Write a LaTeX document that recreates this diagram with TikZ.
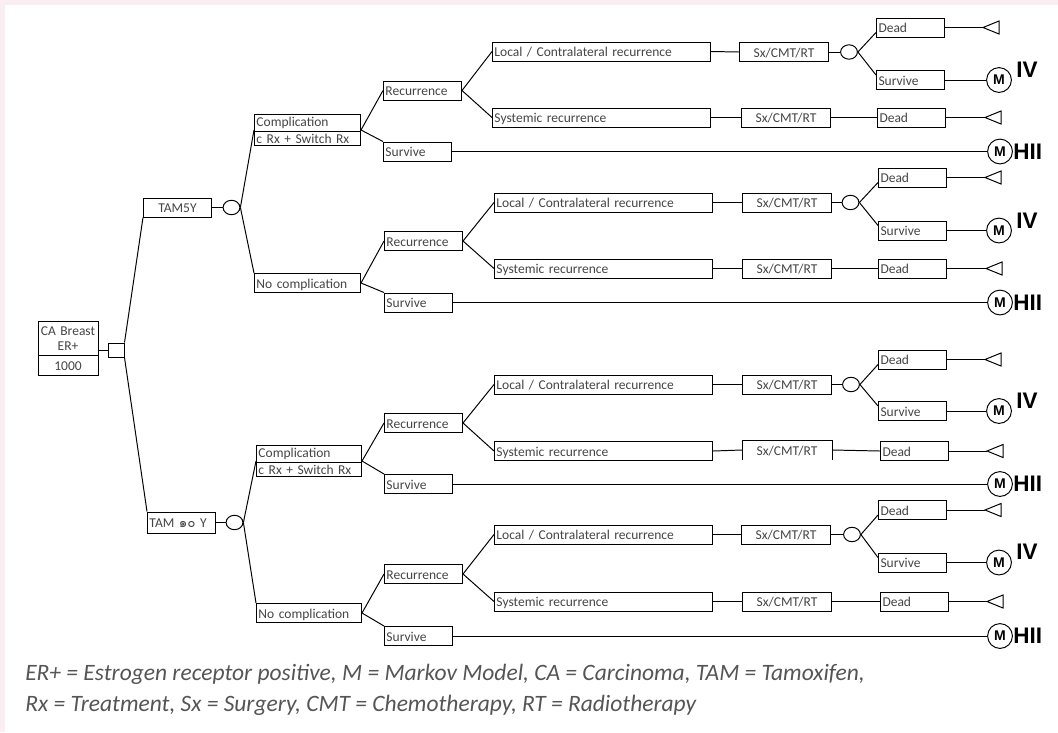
\documentclass[tikz,border=0pt]{standalone}
\usepackage{fontspec}
\setmainfont{Carlito}
\newfontfamily\thaifont[Script=Thai]{Loma}
\newfontfamily\stagefont{Liberation Sans}
\usetikzlibrary{shapes.geometric,shapes.multipart,calc}

\definecolor{bgpink}{HTML}{FBEEF3}
\definecolor{txtgray}{HTML}{454545}
\definecolor{capgray}{HTML}{555555}

\tikzset{
  box/.style={draw, rectangle, anchor=west, inner xsep=0.05cm, inner ysep=0pt,
    minimum height=0.475cm, text height=8.6pt, text depth=1pt, text=txtgray,
    align=left, line width=0.7pt, font=\fontsize{9.6}{10.7}\selectfont},
  widebox/.style={box, text width=5.35cm},
  recbox/.style={box, text width=1.85cm},
  shortbox/.style={box, text width=1.6cm},
  sxbox/.style={box, text width=2.125cm, align=center},
  splitbox/.style={draw, rectangle split, rectangle split parts=2, anchor=west,
    inner xsep=0.05cm, inner ysep=1.5pt, text width=2.55cm, text=txtgray,
    align=left, line width=0.7pt, font=\fontsize{9.6}{10.7}\selectfont},
  rootbox/.style={splitbox, anchor=center, text width=1.4cm, align=center, inner ysep=3.5pt},
  decision/.style={draw, rectangle, inner sep=0pt, minimum width=0.4cm,
    minimum height=0.35cm, line width=0.7pt},
  chance/.style={draw, ellipse, inner sep=0pt, minimum width=0.42cm,
    minimum height=0.36cm, line width=0.7pt},
  markov/.style={draw, circle, inner sep=0pt, minimum size=0.62cm, line width=0.7pt,
    font=\stagefont\bfseries\fontsize{10}{10}\selectfont},
  stage/.style={anchor=west, inner sep=0pt, font=\stagefont\bfseries\fontsize{16}{16}\selectfont},
  caption/.style={anchor=west, inner sep=0pt, text=capgray,
    font=\itshape\fontsize{16.7}{17}\selectfont},
  lnk/.style={line width=0.7pt},
}

\begin{document}
\begin{tikzpicture}[x=0.025cm, y=-0.025cm]
\fill[bgpink] (0,0) rectangle (1058,732);
\fill[white] (5,5) rectangle (1058,732);
\useasboundingbox (0,0) rectangle (1058,732);

% root and decision
\node[rootbox] (root) at (68,348.5) {CA Breast\\ER+ \nodepart{two} 1000};
\node[decision] (dec) at (116,350) {};
\node[shortbox, align=center] (tam5) at (143,207.5) {TAM5Y};
\node[shortbox, minimum height=0.525cm] (tam10) at (147,522.5) {TAM {\thaifont ๑๐} Y};
\node[chance] (c5) at (231.5,207.5) {};
\node[chance] (c10) at (234.5,522.5) {};

% TAM5Y, complication
\node[splitbox] (comp5) at (254,130) {Complication \nodepart{two} c Rx + Switch Rx};
\node[recbox] (rec1) at (383,90.5) {Recurrence};
\node[shortbox] (sur1) at (383,151.5) {Survive};
\node[widebox] (loc1) at (492,51.5) {Local / Contralateral recurrence};
\node[widebox] (sys1) at (492,117.5) {Systemic recurrence};
\node[sxbox] (sx1) at (739,52) {Sx/CMT/RT};
\node[chance] (ch1) at (849,52) {};
\node[shortbox] (dd1) at (876,27.5) {Dead};
\node[shortbox] (sv1) at (876,80) {Survive};
\node[sxbox] (sx2) at (741,117.5) {Sx/CMT/RT};
\node[shortbox] (dd2) at (877,117.5) {Dead};
\coordinate (t1) at (983,27.5);
\coordinate (t2) at (985,117.5);
\node[markov] (m1) at (999,80) {M};
\node[markov] (ms1) at (1000,151.5) {M};
\node[stage] (l1) at (1016,70) {IV};
\node[stage] (ls1) at (1013,151.5) {HII};

% TAM5Y, no complication
\node[box, text width=2.55cm] (nc5) at (254,283) {No complication};
\node[recbox] (rec2) at (384,241) {Recurrence};
\node[shortbox] (sur2) at (384,302.5) {Survive};
\node[widebox] (loc2) at (494,202.5) {Local / Contralateral recurrence};
\node[widebox] (sys2) at (494,268.5) {Systemic recurrence};
\node[sxbox] (sx3) at (742,202.5) {Sx/CMT/RT};
\node[chance] (ch2) at (850.5,202.5) {};
\node[shortbox] (dd3) at (878,177.5) {Dead};
\node[shortbox] (sv3) at (878,230.5) {Survive};
\node[sxbox] (sx4) at (742,268.5) {Sx/CMT/RT};
\node[shortbox] (dd4) at (878,268.5) {Dead};
\coordinate (t3) at (985,177.5);
\coordinate (t4) at (986,268.5);
\node[markov] (m2) at (999,230.5) {M};
\node[markov] (ms2) at (1000,302.5) {M};
\node[stage] (l2) at (1016,221) {IV};
\node[stage] (ls2) at (1013,302.5) {HII};

% TAM 10Y, complication
\node[splitbox, text width=2.525cm] (comp10) at (256,461) {Complication \nodepart{two} c Rx + Switch Rx};
\node[recbox] (rec3) at (384,423) {Recurrence};
\node[shortbox] (sur3) at (384,484) {Survive};
\node[widebox] (loc3) at (494,384.5) {Local / Contralateral recurrence};
\node[widebox] (sys3) at (494,451) {Systemic recurrence};
\node[sxbox] (sx5) at (742,384.5) {Sx/CMT/RT};
\node[chance] (ch3) at (851,384.5) {};
\node[shortbox] (dd5) at (878,359.5) {Dead};
\node[shortbox] (sv5) at (878,411) {Survive};
\node[sxbox, draw=none] (sx6) at (742,450) {Sx/CMT/RT};
\node[shortbox] (dd6) at (880,451) {Dead};
\coordinate (t5) at (985,359.5);
\coordinate (t6) at (987,451);
\node[markov] (m3) at (999,411) {M};
\node[markov] (ms3) at (1000,484) {M};
\node[stage] (l3) at (1016,401) {IV};
\node[stage] (ls3) at (1013,484) {HII};

% TAM 10Y, no complication
\node[box, text width=2.525cm] (nc10) at (256,613) {No complication};
\node[recbox] (rec4) at (384,574) {Recurrence};
\node[shortbox] (sur4) at (384,636) {Survive};
\node[widebox] (loc4) at (494,534.5) {Local / Contralateral recurrence};
\node[widebox] (sys4) at (494,601.5) {Systemic recurrence};
\node[sxbox] (sx7) at (741,534.5) {Sx/CMT/RT};
\node[chance] (ch4) at (852,534.5) {};
\node[shortbox] (dd7) at (878,510) {Dead};
\node[shortbox] (sv7) at (878,562.5) {Survive};
\node[sxbox] (sx8) at (742,601.5) {Sx/CMT/RT};
\node[shortbox] (dd8) at (880,601.5) {Dead};
\coordinate (t7) at (985,510);
\coordinate (t8) at (987,601.5);
\node[markov] (m4) at (999,562.5) {M};
\node[markov] (ms4) at (1000,636) {M};
\node[stage] (l4) at (1016,552) {IV};
\node[stage] (ls4) at (1013,636) {HII};

\node[caption] (cap1) at (25,674) {ER+ = Estrogen receptor positive, M = Markov Model, CA = Carcinoma, TAM = Tamoxifen,};
\node[caption] (cap2) at (25,705) {Rx = Treatment, Sx = Surgery, CMT = Chemotherapy, RT = Radiotherapy};

% connectors
\draw[lnk] (root.east |- dec.west) -- (dec.west);
\draw[lnk] (dec.north east) -- (tam5.south west);
\draw[lnk] (dec.south east) -- (tam10.north west);
\draw[lnk] (tam5.east) -- (c5.west);
\draw[lnk] (tam10.east) -- (c10.west);
\draw[lnk] (c5.east) -- (comp5.west);
\draw[lnk] (c5.east) -- (nc5.north west);
\draw[lnk] (c10.east) -- (comp10.west);
\draw[lnk] (c10.east) -- (nc10.north west);

\draw[lnk] (comp5.east) -- (rec1.west);
\draw[lnk] (comp5.east) -- (sur1.north west);
\draw[lnk] (rec1.east) -- (loc1.west);
\draw[lnk] (rec1.east) -- (sys1.west);
\draw[lnk] (loc1.east) -- (sx1.west);
\draw[lnk] (sx1.east) -- (ch1.west);
\draw[lnk] (ch1.east) -- ($(dd1.west)!0.5!(dd1.south west)$);
\draw[lnk] (ch1.east) -- ($(sv1.west)!0.5!(sv1.north west)$);
\draw[lnk] (dd1.east) -- (t1);
\draw[lnk] (t1) -- ++(16,-6.5) -- ++(0,13) -- cycle;
\draw[lnk] (sv1.east) -- (m1.west);
\draw[lnk] (sys1.east) -- (sx2.west);
\draw[lnk] (sx2.east) -- (dd2.west);
\draw[lnk] (dd2.east) -- (t2);
\draw[lnk] (t2) -- ++(16,-6.5) -- ++(0,13) -- cycle;
\draw[lnk] (sur1.east) -- (ms1.west);

\draw[lnk] (nc5.east) -- (rec2.west);
\draw[lnk] (nc5.east) -- (sur2.north west);
\draw[lnk] (rec2.east) -- (loc2.west);
\draw[lnk] (rec2.east) -- (sys2.west);
\draw[lnk] (loc2.east) -- (sx3.west);
\draw[lnk] (sx3.east) -- (ch2.west);
\draw[lnk] (ch2.east) -- ($(dd3.west)!0.5!(dd3.south west)$);
\draw[lnk] (ch2.east) -- ($(sv3.west)!0.5!(sv3.north west)$);
\draw[lnk] (dd3.east) -- (t3);
\draw[lnk] (t3) -- ++(16,-6.5) -- ++(0,13) -- cycle;
\draw[lnk] (sv3.east) -- (m2.west);
\draw[lnk] (sys2.east) -- (sx4.west);
\draw[lnk] (sx4.east) -- (dd4.west);
\draw[lnk] (dd4.east) -- (t4);
\draw[lnk] (t4) -- ++(16,-6.5) -- ++(0,13) -- cycle;
\draw[lnk] (sur2.east) -- (ms2.west);

\draw[lnk] (comp10.east) -- (rec3.west);
\draw[lnk] (comp10.east) -- (sur3.north west);
\draw[lnk] (rec3.east) -- (loc3.west);
\draw[lnk] (rec3.east) -- (sys3.west);
\draw[lnk] (loc3.east) -- (sx5.west);
\draw[lnk] (sx5.east) -- (ch3.west);
\draw[lnk] (ch3.east) -- ($(dd5.west)!0.5!(dd5.south west)$);
\draw[lnk] (ch3.east) -- ($(sv5.west)!0.5!(sv5.north west)$);
\draw[lnk] (dd5.east) -- (t5);
\draw[lnk] (t5) -- ++(16,-6.5) -- ++(0,13) -- cycle;
\draw[lnk] (sv5.east) -- (m3.west);
\draw[lnk] (sx6.south west) -- (sx6.north west) -- (sx6.north east) -- (sx6.south east);
\draw[lnk] (sys3.east) -- (sx6.west);
\draw[lnk] (sx6.east) -- (dd6.west);
\draw[lnk] (dd6.east) -- (t6);
\draw[lnk] (t6) -- ++(16,-6.5) -- ++(0,13) -- cycle;
\draw[lnk] (sur3.east) -- (ms3.west);

\draw[lnk] (nc10.east) -- (rec4.west);
\draw[lnk] (nc10.east) -- (sur4.north west);
\draw[lnk] (rec4.east) -- (loc4.west);
\draw[lnk] (rec4.east) -- (sys4.west);
\draw[lnk] (loc4.east) -- (sx7.west);
\draw[lnk] (sx7.east) -- (ch4.west);
\draw[lnk] (ch4.east) -- ($(dd7.west)!0.5!(dd7.south west)$);
\draw[lnk] (ch4.east) -- ($(sv7.west)!0.5!(sv7.north west)$);
\draw[lnk] (dd7.east) -- (t7);
\draw[lnk] (t7) -- ++(16,-6.5) -- ++(0,13) -- cycle;
\draw[lnk] (sv7.east) -- (m4.west);
\draw[lnk] (sys4.east) -- (sx8.west);
\draw[lnk] (sx8.east) -- (dd8.west);
\draw[lnk] (dd8.east) -- (t8);
\draw[lnk] (t8) -- ++(16,-6.5) -- ++(0,13) -- cycle;
\draw[lnk] (sur4.east) -- (ms4.west);

\end{tikzpicture}
\end{document}
